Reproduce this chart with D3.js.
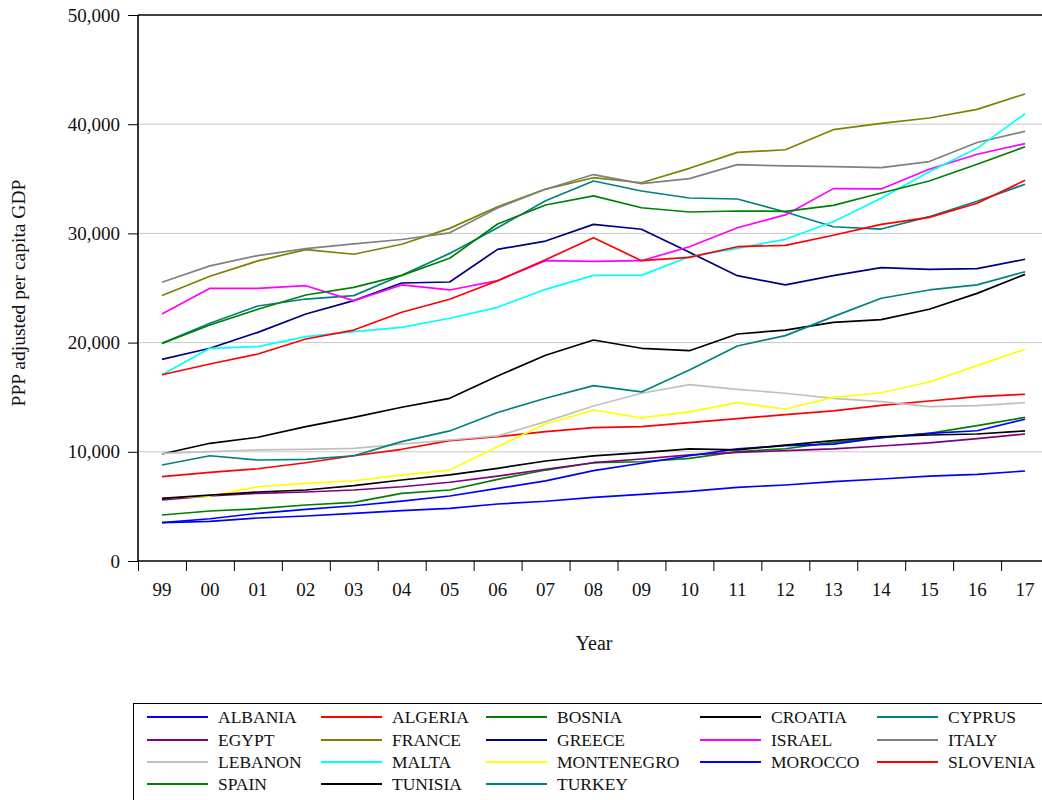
<!DOCTYPE html>
<html>
<head>
<meta charset="utf-8">
<script src="https://cdn.jsdelivr.net/npm/d3@7"></script>
<style>
  html, body { margin: 0; padding: 0; background: #fff; }
  svg { display: block; }
  text { font-family: "Liberation Serif", "Times New Roman", serif; fill: #111; }
</style>
</head>
<body>
<svg id="chart" width="1042" height="800"></svg>
<script>
// Year labels (1999–2017)
const years = ["99","00","01","02","03","04","05","06","07","08","09","10","11","12","13","14","15","16","17"];
const yTicks = [0, 10000, 20000, 30000, 40000, 50000];

// PPP adjusted per capita GDP by country
const countries = ["ALBANIA","ALGERIA","BOSNIA","CROATIA","CYPRUS","EGYPT","FRANCE","GREECE","ISRAEL","ITALY",
                   "LEBANON","MALTA","MONTENEGRO","MOROCCO","SLOVENIA","SPAIN","TUNISIA","TURKEY"];
const colors = ["#0000ff","#ff0000","#008000","#000000","#008080","#800080","#808000","#000080","#ff00ff","#808080",
                "#c0c0c0","#00ffff","#ffff00","#0000ff","#ff0000","#008000","#000000","#008080"];

const albania    = [3510,3630,3940,4120,4370,4610,4820,5220,5470,5830,6110,6380,6750,6960,7260,7510,7780,7940,8240];
const algeria    = [7720,8120,8450,9000,9640,10230,11020,11380,11840,12210,12300,12670,13030,13400,13740,14260,14650,15050,15270];
const bosnia     = [4210,4580,4790,5130,5370,6200,6500,7480,8330,9000,9090,9400,10010,10280,10870,11290,11690,12390,13160];
const croatia    = [9800,10780,11330,12300,13160,14080,14900,16940,18840,20240,19480,19260,20790,21150,21860,22100,23050,24510,26250];
const cyprus     = [19930,21770,23350,23990,24300,26160,28170,30520,32990,34800,33880,33240,33150,31960,30610,30400,31530,32940,34500];
const egypt      = [5590,5950,6200,6320,6500,6800,7210,7780,8400,9000,9340,9710,9950,10100,10260,10530,10810,11200,11630];
const france     = [24320,26080,27480,28520,28090,29010,30460,32440,34060,35100,34640,35960,37420,37660,39500,40080,40570,41360,42770];
const greece     = [18470,19480,20940,22620,23840,25460,25550,28540,29300,30830,30380,28270,26130,25280,26130,26860,26710,26770,27630];
const israel     = [22620,24970,24970,25210,23840,25280,24820,25670,27500,27440,27500,28780,30520,31690,34100,34070,35870,37250,38220];
const italy      = [25530,27030,27970,28610,29040,29440,30050,32330,34040,35390,34560,35020,36300,36180,36120,36030,36580,38320,39350];
const lebanon    = [9860,10010,10170,10230,10320,10710,11080,11450,12760,14190,15360,16150,15720,15360,14900,14590,14130,14220,14500];
const malta      = [17060,19480,19630,20540,21000,21400,22230,23230,24880,26160,26160,27870,28630,29460,31070,33210,35650,37790,40960];
const montenegro = [5770,5950,6800,7110,7350,7870,8330,10470,12550,13830,13100,13650,14500,13920,14990,15410,16390,17890,19390];
const morocco    = [3510,3870,4370,4730,5060,5490,5950,6650,7330,8270,8950,9640,10260,10560,10710,11290,11690,11930,12980];
const slovenia   = [17060,18040,18960,20330,21150,22780,23970,25670,27590,29610,27500,27810,28780,28910,29830,30830,31470,32760,34860];
const spain      = [19930,21610,23050,24360,25060,26160,27720,30860,32600,33430,32350,31960,32050,32020,32570,33700,34800,36330,37940];
const tunisia    = [5740,6040,6320,6500,6900,7420,7880,8490,9160,9620,9920,10260,10170,10620,11020,11380,11540,11630,11910];
const turkey     = [8790,9640,9250,9310,9640,10930,11910,13600,14900,16060,15480,17490,19690,20640,22380,24060,24820,25280,26490];

const seriesValues = [albania, algeria, bosnia, croatia, cyprus, egypt, france, greece, israel, italy,
                      lebanon, malta, montenegro, morocco, slovenia, spain, tunisia, turkey];

const series = countries.map((name, i) => ({ name, color: colors[i], values: seriesValues[i] }));

// Layout
const plot = { left: 138, top: 15, bottom: 561, step: 47.95 };
const svg = d3.select("#chart");

const x = d3.scaleBand()
  .domain(years)
  .range([plot.left, plot.left + plot.step * years.length])
  .padding(0);
const xIdx = d3.scaleLinear().domain([0, years.length]).range(x.range());
const y = d3.scaleLinear().domain([0, 50000]).range([plot.bottom, plot.top]);
const xc = d => x(d) + x.bandwidth() / 2;

// Horizontal gridlines
svg.append("g")
  .selectAll("line")
  .data(yTicks.filter(t => t > 0 && t < 50000))
  .join("line")
  .attr("x1", plot.left).attr("x2", 1042)
  .attr("y1", d => y(d)).attr("y2", d => y(d))
  .attr("stroke", "#c8c8c8").attr("stroke-width", 1);

// Top frame line
svg.append("line")
  .attr("x1", plot.left).attr("x2", 1042)
  .attr("y1", y(50000)).attr("y2", y(50000))
  .attr("stroke", "#000").attr("stroke-width", 1.6);

// Lines
const line = d3.line()
  .x((d, i) => xc(years[i]))
  .y(d => y(d));

svg.append("g")
  .selectAll("path")
  .data(series)
  .join("path")
  .attr("fill", "none")
  .attr("stroke", d => d.color)
  .attr("stroke-width", 1.7)
  .attr("stroke-linejoin", "round")
  .attr("d", d => line(d.values));

// Left axis
const yAxis = svg.append("g")
  .attr("transform", `translate(${plot.left},0)`)
  .call(d3.axisLeft(y).tickValues(yTicks).tickSize(10).tickPadding(8).tickFormat(d3.format(",")));
yAxis.select(".domain").attr("stroke-width", 1.6).attr("d", `M0,${y(50000)}V${y(0)}`);
yAxis.selectAll(".tick line").attr("stroke-width", 1);
yAxis.selectAll("text").attr("font-size", 19).attr("font-family", "Liberation Serif").attr("fill", "#111");

// Bottom axis: ticks on band boundaries, labels at band centres
const xTickAxis = svg.append("g")
  .attr("transform", `translate(0,${plot.bottom})`)
  .call(d3.axisBottom(xIdx).tickValues(d3.range(years.length + 1)).tickSize(10).tickFormat(""));
xTickAxis.select(".domain").attr("stroke-width", 1.6).attr("d", `M${plot.left},0H1042`);

const xLabelAxis = svg.append("g")
  .attr("transform", `translate(0,${plot.bottom})`)
  .call(d3.axisBottom(x).tickSize(0).tickPadding(22));
xLabelAxis.select(".domain").remove();
xLabelAxis.selectAll("text").attr("font-size", 19).attr("font-family", "Liberation Serif").attr("fill", "#111");

// Axis titles
svg.append("text")
  .attr("x", 594).attr("y", 650)
  .attr("text-anchor", "middle")
  .attr("font-size", 20)
  .text("Year");

svg.append("text")
  .attr("transform", "translate(25,293) rotate(-90)")
  .attr("text-anchor", "middle")
  .attr("font-size", 19.5)
  .text("PPP adjusted per capita GDP");

// Legend
const legend = svg.append("g");
legend.append("rect")
  .attr("x", 133.5).attr("y", 703.5)
  .attr("width", 920).attr("height", 110)
  .attr("fill", "none").attr("stroke", "#000").attr("stroke-width", 1);

const colX = [147, 321, 486, 700, 877];
const rowY = [717, 740, 762, 784];
const items = legend.selectAll("g.item")
  .data(series)
  .join("g")
  .attr("class", "item")
  .attr("transform", (d, i) => `translate(${colX[i % 5]},${rowY[Math.floor(i / 5)]})`);
items.append("line")
  .attr("x1", 0).attr("x2", 61)
  .attr("stroke", d => d.color).attr("stroke-width", 2);
items.append("text")
  .attr("x", 71).attr("dy", "0.35em")
  .attr("font-size", 17.5)
  .text(d => d.name);
</script>
</body>
</html>
